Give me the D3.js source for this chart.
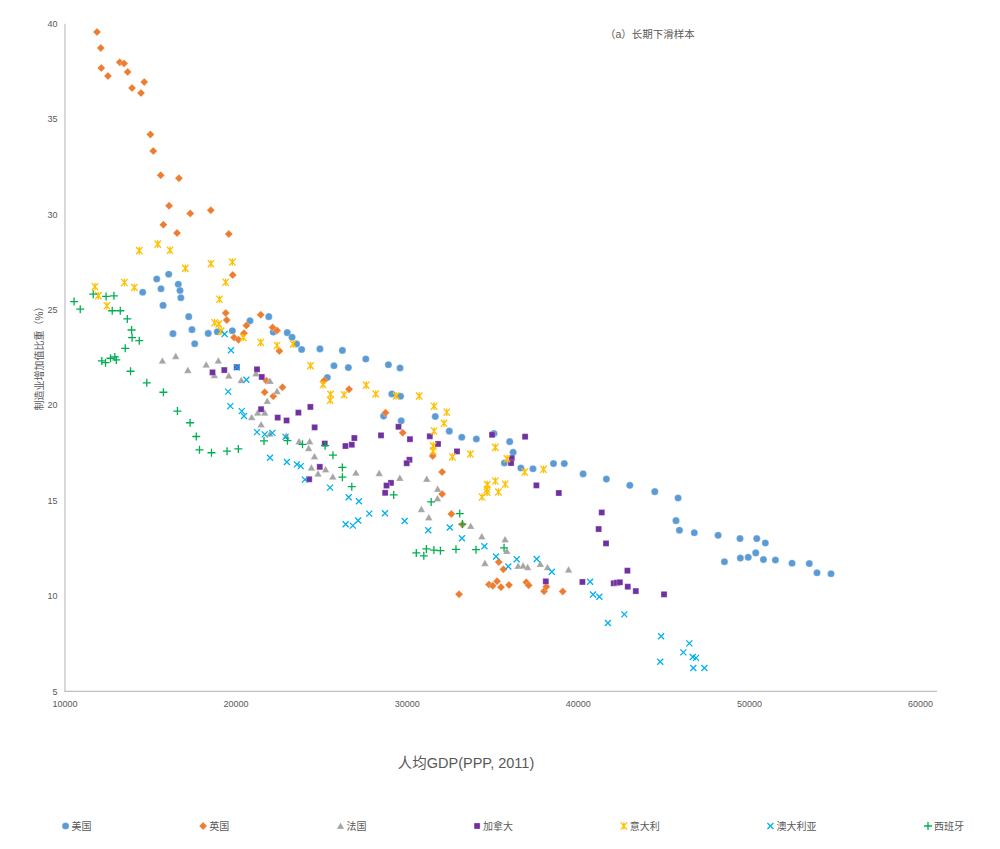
<!DOCTYPE html>
<html>
<head>
<meta charset="utf-8">
<script src="https://cdn.jsdelivr.net/npm/d3@7"></script>
<style>
  body { margin: 0; background: #fff; }
  text { font-family: "Liberation Sans", "Noto Sans CJK SC", sans-serif; fill: #595959; }
</style>
</head>
<body>
<div id="chart-area"></div>
<script>
// ---- DATA (人均GDP, 制造业增加值比重 %)
var countries = ["美国", "英国", "法国", "加拿大", "意大利", "澳大利亚", "西班牙"];
var xTicks = [10000, 20000, 30000, 40000, 50000, 60000];
var yTicks = [5, 10, 15, 20, 25, 30, 35, 40];

var usa = [[14570,25.91],[15390,26.60],[15640,26.09],[16090,26.85],[16650,26.33],[16750,26.00],[16800,25.62],[15760,25.22],[17260,24.63],[17450,23.95],[16340,23.74],[17610,23.21],[18400,23.75],[18930,23.84],[19810,23.89],[20840,24.41],[21940,24.63],[22200,23.82],[23020,23.79],[23300,23.55],[23560,23.20],[23860,22.91],[24930,22.94],[26240,22.86],[27610,22.41],[28930,22.11],[29610,21.94],[25750,22.06],[26590,21.96],[25360,21.44],[29130,20.58],[29640,20.46],[28650,19.42],[29680,19.17],[31670,19.40],[32490,18.63],[33220,18.31],[34070,18.22],[35100,18.51],[36020,18.08],[36220,17.52],[35710,16.96],[36670,16.70],[37380,16.66],[38580,16.93],[39210,16.93],[40310,16.39],[41670,16.12],[43040,15.79],[44500,15.46],[45860,15.13],[45740,13.94],[45940,13.44],[46810,13.31],[48200,13.17],[49480,13.00],[50460,13.00],[50960,12.77],[48570,11.79],[49500,11.98],[49960,12.02],[50400,12.25],[50850,11.90],[51550,11.88],[52520,11.71],[53530,11.69],[53980,11.21],[54800,11.16]];

var uk = [[11900,39.54],[12120,38.71],[12150,37.66],[12540,37.24],[13230,37.96],[13480,37.90],[13690,37.45],[13950,36.61],[14470,36.35],[14660,36.92],[15020,34.18],[15190,33.31],[15620,32.04],[16690,31.88],[16110,30.44],[17350,30.04],[18550,30.20],[15780,29.45],[16580,29.01],[19600,28.96],[19830,26.81],[19420,24.82],[19480,24.45],[21470,24.73],[22160,24.06],[22420,23.91],[20630,24.16],[20490,23.76],[19910,23.54],[20170,23.42],[22560,22.83],[21800,21.27],[21700,20.67],[22200,20.46],[22740,20.93],[25180,21.28],[26630,20.82],[28760,19.59],[29770,18.55],[31520,17.33],[32070,16.49],[32070,15.34],[32610,14.29],[33250,13.74],[35380,11.77],[35650,11.39],[33060,10.08],[34810,10.59],[35030,10.53],[35280,10.76],[35510,10.45],[35980,10.57],[36990,10.71],[37130,10.55],[38030,10.24],[38160,10.48],[39120,10.23]];

var france = [[15720,22.32],[16500,22.56],[17210,21.83],[18280,22.12],[18990,22.33],[18760,21.56],[19600,21.54],[20330,21.30],[21190,21.66],[22010,21.26],[22420,20.73],[21850,20.21],[21290,19.60],[21700,19.60],[20940,19.36],[21490,18.98],[22010,18.50],[22960,18.38],[23710,18.10],[24330,18.10],[24270,17.74],[24610,17.31],[24430,16.72],[24820,16.41],[25260,16.63],[25680,16.25],[27030,16.45],[28390,16.43],[29600,16.18],[31170,16.13],[31810,15.61],[31800,15.11],[30860,14.54],[31290,14.11],[33740,13.66],[34390,13.12],[35750,12.96],[35850,12.35],[34570,11.72],[36510,11.57],[36800,11.58],[37070,11.51],[37810,11.67],[38230,11.50],[39460,11.38]];

var canada = [[18650,21.71],[19340,21.83],[20070,21.98],[21250,21.87],[21530,21.47],[21490,19.78],[22460,19.34],[22980,19.19],[23670,19.60],[24370,19.90],[24620,18.83],[25210,17.98],[26420,17.85],[26790,17.92],[26940,18.27],[24920,16.76],[24300,16.11],[28500,18.41],[29520,18.86],[30190,18.21],[31350,18.36],[31830,17.96],[32940,17.57],[30160,17.13],[30000,16.95],[29080,15.92],[28820,15.78],[28740,15.40],[34990,18.44],[36140,17.22],[36100,16.96],[36920,18.34],[37580,15.79],[38890,15.39],[41400,14.37],[41220,13.50],[41650,12.75],[38130,10.76],[40270,10.73],[42100,10.66],[42280,10.69],[42460,10.71],[42900,11.32],[42920,10.48],[43390,10.25],[45040,10.08]];

var italy = [[11780,26.20],[11980,25.73],[12480,25.20],[13500,26.42],[14080,26.16],[14370,28.09],[15450,28.43],[16170,28.11],[17060,27.16],[18560,27.40],[19810,27.49],[19420,26.43],[19060,25.54],[18770,24.31],[19020,24.24],[19150,23.87],[20450,23.54],[21470,23.28],[22420,23.12],[23360,23.20],[24380,22.06],[25110,21.07],[25550,20.56],[25530,20.25],[26340,20.54],[27630,21.04],[28190,20.58],[29380,20.48],[30730,20.47],[31600,19.94],[32340,19.62],[32180,19.04],[31600,18.64],[31550,17.86],[31540,17.59],[32670,17.28],[33720,17.43],[35180,17.78],[35860,17.18],[38000,16.63],[36900,16.49],[34710,15.83],[35180,16.02],[35760,15.85],[34690,15.57],[34700,15.43],[34400,15.18],[35360,15.44]];

var australia = [[19360,23.72],[19730,22.87],[20070,21.98],[20630,21.32],[19570,20.70],[19690,19.94],[20360,19.68],[20490,19.42],[21250,18.58],[21700,18.46],[22150,18.54],[22920,18.33],[22010,17.24],[23000,17.01],[23580,16.89],[23810,16.80],[24050,16.09],[25520,15.67],[26610,15.17],[27210,14.96],[27810,14.31],[28730,14.33],[29880,13.92],[26430,13.75],[26850,13.68],[27160,13.95],[31260,13.44],[32520,13.58],[33230,13.02],[34540,12.60],[35220,12.06],[35940,11.54],[36430,11.92],[37600,11.93],[38480,11.26],[40720,10.74],[40890,10.07],[41260,9.95],[41760,8.58],[42720,9.03],[44870,7.88],[46520,7.51],[46170,7.04],[46720,6.80],[46910,6.75],[44820,6.55],[46750,6.22],[47400,6.22]];

var spain = [[10560,25.42],[10920,25.02],[11680,25.81],[12430,25.69],[12890,25.72],[12790,24.94],[13260,24.94],[13670,24.51],[13920,23.93],[13950,23.53],[14370,23.37],[13550,22.97],[12180,22.31],[12400,22.22],[12690,22.45],[12940,22.52],[13030,22.36],[13860,21.77],[14810,21.16],[15780,20.67],[16600,19.68],[17340,19.07],[17700,18.35],[17890,17.65],[18590,17.50],[19500,17.58],[20160,17.70],[21660,18.12],[23030,18.13],[23910,17.94],[25230,17.87],[25690,17.37],[26240,16.73],[26240,16.22],[26790,15.72],[29240,15.29],[31430,14.92],[33100,14.31],[33260,13.76],[30560,12.25],[31000,12.10],[31150,12.46],[31590,12.40],[31970,12.37],[32880,12.44],[34050,12.42],[35690,12.52]];

// ---- MARKER SHAPES
var diamond = { draw: function (c) { var r = 4; c.moveTo(0, -r); c.lineTo(r, 0); c.lineTo(0, r); c.lineTo(-r, 0); c.closePath(); } };
var triangle = { draw: function (c) { c.moveTo(0, -3.6); c.lineTo(3.8, 3.1); c.lineTo(-3.8, 3.1); c.closePath(); } };
var square = { draw: function (c) { c.rect(-3, -3, 6, 6); } };
// asterisk style star: x plus a vertical stroke
var star = { draw: function (c) {
  c.moveTo(-3.2, -3.6); c.lineTo(3.2, 3.6); c.moveTo(3.2, -3.6); c.lineTo(-3.2, 3.6);
  c.moveTo(0, -3.8); c.lineTo(0, 3.8);
} };
var cross = { draw: function (c) { var r = 3; c.moveTo(-r, -r); c.lineTo(r, r); c.moveTo(r, -r); c.lineTo(-r, r); } };
var plus = { draw: function (c) { var r = 4; c.moveTo(-r, 0); c.lineTo(r, 0); c.moveTo(0, -r); c.lineTo(0, r); } };

var series = [
  { name: countries[0], values: usa,       color: "#5b9bd5", type: d3.symbolCircle, size: 40, filled: true },
  { name: countries[1], values: uk,        color: "#ed7d31", type: diamond,  filled: true },
  { name: countries[2], values: france,    color: "#a5a5a5", type: triangle, filled: true },
  { name: countries[3], values: canada,    color: "#7030a0", type: square,   filled: true },
  { name: countries[4], values: italy,     color: "#ffc000", type: star,     filled: false },
  { name: countries[5], values: australia, color: "#00b0f0", type: cross,    filled: false },
  { name: countries[6], values: spain,     color: "#00b050", type: plus,     filled: false }
];

var width = 1000, height = 849;

var svg = d3.select("#chart-area")
  .append("svg")
  .attr("width", width)
  .attr("height", height);

// SCALES
var x = d3.scaleLinear().domain([10000, 60000]).range([64.5, 920]);
var y = d3.scaleLinear().domain([5, 40]).range([691.3, 23.3]);

// AXES
var yAxisGroup = svg.append("g")
  .attr("transform", "translate(64.5,0)")
  .call(d3.axisLeft(y).tickValues(yTicks).tickSize(0).tickPadding(7));
yAxisGroup.select(".domain").attr("stroke", "#bfbfbf").attr("stroke-width", 1.2);
yAxisGroup.selectAll("text").attr("font-size", "9px").style("fill", "#595959");

var xAxisGroup = svg.append("g")
  .attr("transform", "translate(0,691.3)")
  .call(d3.axisBottom(x).tickValues(xTicks).tickSize(0).tickPadding(9).tickFormat(d3.format("d")));
xAxisGroup.select(".domain").remove();
xAxisGroup.append("line")
  .attr("x1", 64.5).attr("x2", 937)
  .attr("stroke", "#bfbfbf").attr("stroke-width", 1.2);
xAxisGroup.selectAll("text").attr("font-size", "9px").style("fill", "#595959");

// TITLES
svg.append("text")
  .attr("x", 605).attr("y", 37.5)
  .attr("font-size", "10.5px")
  .text("（a）长期下滑样本");

svg.append("text")
  .attr("transform", "translate(43,356) rotate(-90)")
  .attr("text-anchor", "middle")
  .attr("font-size", "10px")
  .text("制造业增加值比重（%）");

svg.append("text")
  .attr("x", 466).attr("y", 768)
  .attr("text-anchor", "middle")
  .attr("font-size", "14.5px")
  .text("人均GDP(PPP, 2011)");

// POINTS
function styleMarker(sel) {
  sel.attr("d", function (d) { return d3.symbol().type(d.s.type).size(d.s.size || 64)(); })
    .attr("fill", function (d) { return d.s.filled ? d.s.color : "none"; })
    .attr("stroke", function (d) { return d.s.filled ? "#fff" : d.s.color; })
    .attr("stroke-opacity", function (d) { return d.s.filled ? 0.35 : 1; })
    .attr("stroke-width", function (d) { return d.s.filled ? 0.8 : 1.3; });
}

series.forEach(function (s) {
  var g = svg.append("g").attr("class", "series");
  g.selectAll("path")
    .data(s.values.map(function (v) { return { s: s, v: v }; }))
    .enter()
    .append("path")
    .attr("transform", function (d) { return "translate(" + x(d.v[0]) + "," + y(d.v[1]) + ")"; })
    .call(styleMarker);
});

// LEGEND (justified across the bottom)
var legend = svg.append("g");
var items = legend.selectAll("g")
  .data(series)
  .enter()
  .append("g");
items.append("path")
  .datum(function (d) { return { s: d }; })
  .call(styleMarker);
items.append("text")
  .attr("x", 6)
  .attr("dy", "0.35em")
  .attr("font-size", "10px")
  .text(function (d) { return d.name; });

var boxes = [];
items.each(function () { boxes.push(this.getBBox()); });
var left = 62, right = 964;
var gap = (right - left - d3.sum(boxes, function (b) { return b.width; })) / (boxes.length - 1);
var pos = left;
items.attr("transform", function (d, i) {
  var t = "translate(" + (pos - boxes[i].x) + ",826)";
  pos += boxes[i].width + gap;
  return t;
});
</script>
</body>
</html>
